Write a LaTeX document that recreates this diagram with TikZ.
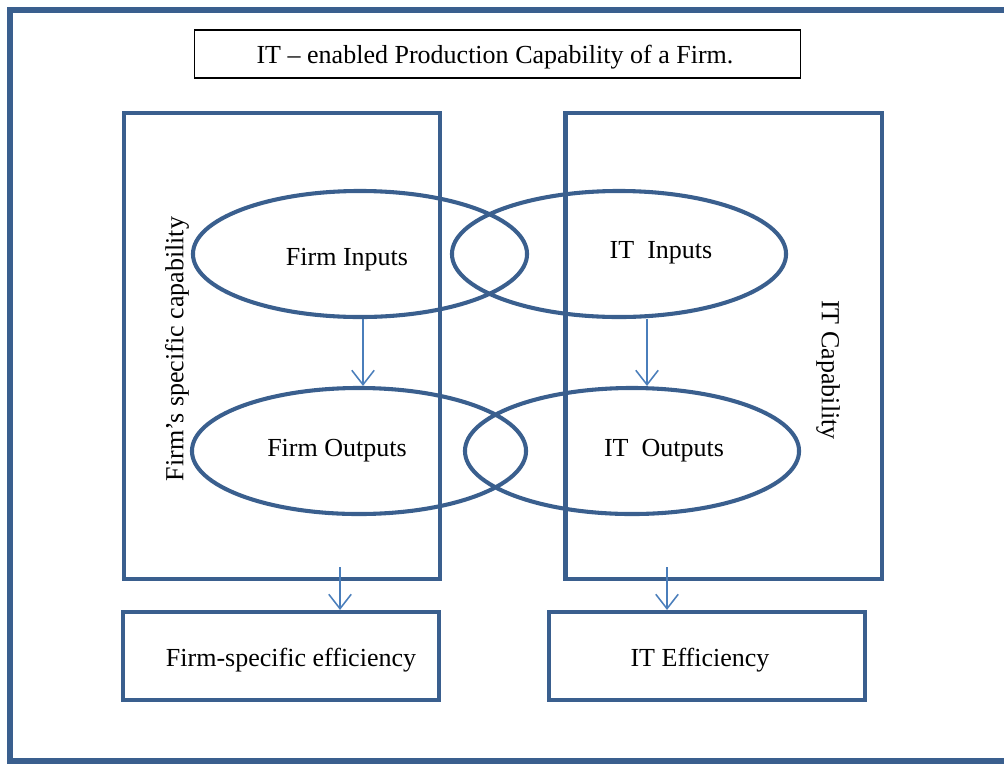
\documentclass[tikz,border=0pt]{standalone}
\usepackage{fontspec}
\setmainfont{Liberation Serif}
\usepackage{tikz}
\usetikzlibrary{arrows.meta,positioning,shapes.geometric}

\definecolor{capblue}{HTML}{3A5F8E}
\definecolor{arrblue}{HTML}{4A7EBB}

\begin{document}
\begin{tikzpicture}[
  x=0.025cm, y=-0.025cm,
  font=\fontsize{18.5}{22}\selectfont,
  frame/.style={draw=capblue, line width=3.6pt},
  titlebox/.style={draw, line width=0.8pt, minimum width=15.125cm, minimum height=1.2cm},
  capbox/.style={draw=capblue, line width=2.9pt, minimum width=7.9cm, minimum height=11.65cm},
  effbox/.style={draw=capblue, line width=2.9pt, minimum width=7.9cm, minimum height=2.2cm},
  blob/.style={ellipse, draw=capblue, line width=2.9pt, minimum width=8.35cm, minimum height=3.15cm},
  flow/.style={-{Straight Barb[length=3.6mm,width=5.6mm]}, draw=arrblue, line width=1.1pt}
]
\useasboundingbox (0,0) rectangle (1004,764);
\draw[frame] (1004,10) -- (10,10) -- (10,761) -- (1004,761);

\node[titlebox] (title) at (497.5,54) {};
\node (titletext) at (495,57) {IT -- enabled Production Capability of a Firm.};

\node[capbox] (fcap) at (282,346) {};
\node[capbox] (itcap) at (723.5,346) {};
\node[rotate=90] (fcaptext) at (177,349) {Firm's specific capability};
\node[rotate=-90] (itcaptext) at (828,370) {IT Capability};

\node[blob] (fin) at (360,254) {};
\node[blob] (itin) at (619,254) {};
\node[blob] (fout) at (359,451) {};
\node[blob] (itout) at (632,451) {};
\node (fintext) at (347,260) {Firm Inputs};
\node (itintext) at (661,253) {IT\ \ Inputs};
\node (fouttext) at (337,451) {Firm Outputs};
\node (itouttext) at (664,451) {IT\ \ Outputs};

\node[effbox] (feff) at (281,656) {};
\node[effbox] (iteff) at (707,656) {};
\node (fefftext) at (291,660) {Firm-specific efficiency};
\node (itefftext) at (700,660) {IT Efficiency};

\coordinate (itx) at (647,0);
\coordinate (fa) at (340,567);
\coordinate (ita) at (667,567);
\draw[flow] (fin.south -| 363,0) -- (fout.north -| 363,0);
\draw[flow] (itin.south -| itx) -- (itout.north -| itx);
\draw[flow] (fa) -- (fa |- feff.north);
\draw[flow] (ita) -- (ita |- iteff.north);
\end{tikzpicture}
\end{document}
